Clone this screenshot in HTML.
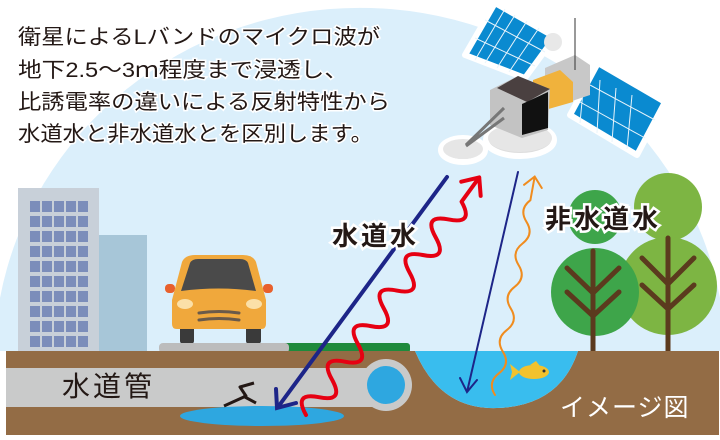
<!DOCTYPE html>
<html><head><meta charset="utf-8"><style>
html,body{margin:0;padding:0;background:#fff;width:720px;height:440px;overflow:hidden;position:relative;}
svg{display:block;position:absolute;left:0;top:0;overflow:hidden;}
text{font-family:"Liberation Sans","Noto Sans CJK JP",sans-serif;}
</style></head><body><svg width="720" height="440" viewBox="0 0 720 440" xmlns="http://www.w3.org/2000/svg">
<defs>
<pattern id="win" x="30" y="201" width="12" height="15" patternUnits="userSpaceOnUse">
<rect x="0" y="0" width="10" height="11" fill="#7b8dba"/>
</pattern>
</defs>
<rect width="720" height="440" fill="#fff"/>
<path d="M0 351 L0 298 A366 354 0 0 1 720 298 L720 351 Z" fill="#dbeffb"/>
<g font-size="21" fill="#231815" stroke="#fff" stroke-width="3" paint-order="stroke">
<text x="18" y="44" textLength="362" lengthAdjust="spacingAndGlyphs">衛星によるLバンドのマイクロ波が</text>
<text x="18" y="77" textLength="330" lengthAdjust="spacingAndGlyphs">地下2.5～3ｍ程度まで浸透し、</text>
<text x="18" y="109" textLength="372" lengthAdjust="spacingAndGlyphs">比誘電率の違いによる反射特性から</text>
<text x="18" y="141" textLength="355" lengthAdjust="spacingAndGlyphs">水道水と非水道水とを区別します。</text>
</g>
<rect x="99" y="235" width="48" height="117" fill="#a7c6d8"/>
<rect x="18" y="188" width="81" height="164" fill="#c8d0d9"/>
<rect x="30" y="201" width="60" height="147" fill="url(#win)"/>
<rect x="165" y="284" width="10" height="9" rx="4" fill="#e8602c"/>
<rect x="263" y="284" width="10" height="9" rx="4" fill="#e8602c"/>
<rect x="180" y="322" width="14" height="22" rx="3" fill="#3a3a3a"/>
<rect x="246" y="322" width="15" height="22" rx="3" fill="#3a3a3a"/>
<path d="M182 262 Q185 255 195 255 L243 255 Q253 255 256 262 L266 300 L266 324 Q266 329 261 329 L177 329 Q172 329 172 324 L172 300 Z" fill="#f0a83c"/>
<path d="M190 263 Q192 259 198 259 L240 259 Q246 259 248 263 L256 291 Q219 286 181 291 Z" fill="#4a4a4a"/>
<ellipse cx="185" cy="304" rx="8" ry="5" fill="#fbe0a8"/>
<ellipse cx="254" cy="304" rx="8" ry="5" fill="#fbe0a8"/>
<path d="M199 313 Q219 310 239 313 M199 320 Q219 317 239 320" stroke="#6a5a4a" stroke-width="3" fill="none" stroke-linecap="round"/>
<rect x="280" y="343" width="130" height="10" rx="3" fill="#1e8a3c"/>
<rect x="159" y="343" width="130" height="10" rx="4" fill="#bcbcbc"/>
<circle cx="668" cy="207" r="34" fill="#7db543"/>
<circle cx="668" cy="286" r="49" fill="#7db543"/>
<circle cx="595" cy="217" r="27" fill="#3ea54a"/>
<circle cx="595" cy="292" r="44" fill="#3ea54a"/>
<g stroke="#5b3a1e" stroke-width="5" stroke-linecap="round" fill="none">
<path d="M593 251 V352 M567 268 L593 293 L619 268 M567 292 L593 316 L619 292"/>
<path d="M668 238 V352 M642 258 L668 284 L694 258 M642 285 L668 309 L694 285"/>
</g>
<path d="M6 351 H415 Q440 410 497 408 Q560 406 578 351 H719 V435 H6 Z" fill="#936c45"/>
<path d="M415 351 Q440 410 497 408 Q560 406 578 351 Z" fill="#39bdee"/>
<rect x="6" y="368" width="380" height="39" fill="#c9caca"/>
<circle cx="386" cy="385" r="26" fill="#c9caca"/>
<circle cx="386" cy="385" r="19" fill="#2ea7e0"/>
<ellipse cx="262" cy="416" rx="82" ry="10" fill="#2ea7e0"/>
<path d="M224 406 L246 396 L240 387 L254 383 M243 396 L256 403" stroke="#231815" stroke-width="3" fill="none" stroke-linejoin="round"/>
<text x="62" y="396" font-size="28" fill="#231815" letter-spacing="3">水道管</text>
<g transform="translate(530,372)">
<ellipse cx="4" cy="0" rx="15" ry="7" fill="#f2c22e"/>
<path d="M-10 0 L-20 -8 L-18 0 L-20 8 Z" fill="#f2c22e"/>
<path d="M0 -7 L6 -11 L10 -6 Z" fill="#f2c22e"/>
<circle cx="14" cy="-1" r="1.5" fill="#333"/>
</g>
<g stroke="#fff" stroke-width="6" stroke-linejoin="round">
<polygon points="495,3 555,37 525,78 465,55" fill="#0a8ad0"/>
<polygon points="598,63 665,102 637,155 570,115" fill="#0a8ad0"/>
<ellipse cx="520" cy="140" rx="34" ry="16" fill="#ddd"/>
<ellipse cx="463" cy="150" rx="22" ry="12" fill="#ddd"/>
</g>
<g stroke="#e8f4fb" stroke-width="1">
<path d="M505 9 L475 60 M515 15 L485 63 M527 21 L497 68 M539 28 L509 72 M485 20 L545 52 M475 38 L535 66"/>
<path d="M585 70 L580 123 M600 80 L597 133 M616 88 L612 142 M632 95 L627 149 M590 85 L655 120 M580 102 L645 138"/>
</g>
<ellipse cx="520" cy="138" rx="32" ry="14" fill="#e6e6e6"/>
<ellipse cx="463" cy="149" rx="20" ry="10" fill="#e6e6e6"/>
<polygon points="545,68 575,55 590,65 590,95 560,105 545,95" fill="#c8c8c8"/>
<circle cx="553" cy="42" r="9" fill="#e8e8e8"/>
<line x1="575" y1="18" x2="575" y2="70" stroke="#333" stroke-width="1"/>
<polygon points="533,80 560,70 573,82 573,102 545,110 533,100" fill="#f0b23c"/>
<polygon points="490,90 518,76 550,89 548,130 522,138 490,125" fill="#c3c3c3"/>
<polygon points="497,88 518,76 550,89 527,102" fill="#4a4040"/>
<polygon points="522,104 548,92 548,128 522,135" fill="#111"/>
<path d="M504 108 L466 145 M504 118 L466 146" stroke="#777" stroke-width="3"/>
<g stroke="#1d2588" stroke-width="4" fill="none" stroke-linecap="round">
<path d="M447 177 L278 407 M276 389 L277 408 L296 403"/>
</g>
<g stroke="#1d2588" stroke-width="2" fill="none" stroke-linecap="round">
<path d="M518 172 L467 392 M460 378 L467 392 L477 380"/>
</g>
<g transform="translate(306,415) rotate(-53.9)" stroke="#e60012" stroke-width="4" fill="none" stroke-linecap="round" stroke-linejoin="round">
<path d="M0 0 q11 -24 22 0 t22 0 t22 0 t22 0 t22 0 t22 0 t22 0 t22 0 t22 0 t22 0 t22 0 t22 0 L294 0 M280 -12 L294 0 L280 12"/>
</g>
<g transform="translate(495,395) rotate(-79.7)" stroke="#f08c1e" stroke-width="2" fill="none" stroke-linecap="round">
<path d="M0 0 q11 -10 22 0 t22 0 t22 0 t22 0 t22 0 t22 0 t22 0 t22 0 t22 0 L222 0 M212 -9 L222 0 L212 9"/>
</g>
<g font-size="26" font-weight="bold" fill="#231815" stroke="#fff" stroke-width="5" paint-order="stroke" letter-spacing="3">
<text x="332" y="245">水道水</text>
<text x="545" y="228">非水道水</text>
</g>
<text x="560" y="416" font-size="25" fill="#fff" letter-spacing="1">イメージ図</text>
</svg></body></html>
